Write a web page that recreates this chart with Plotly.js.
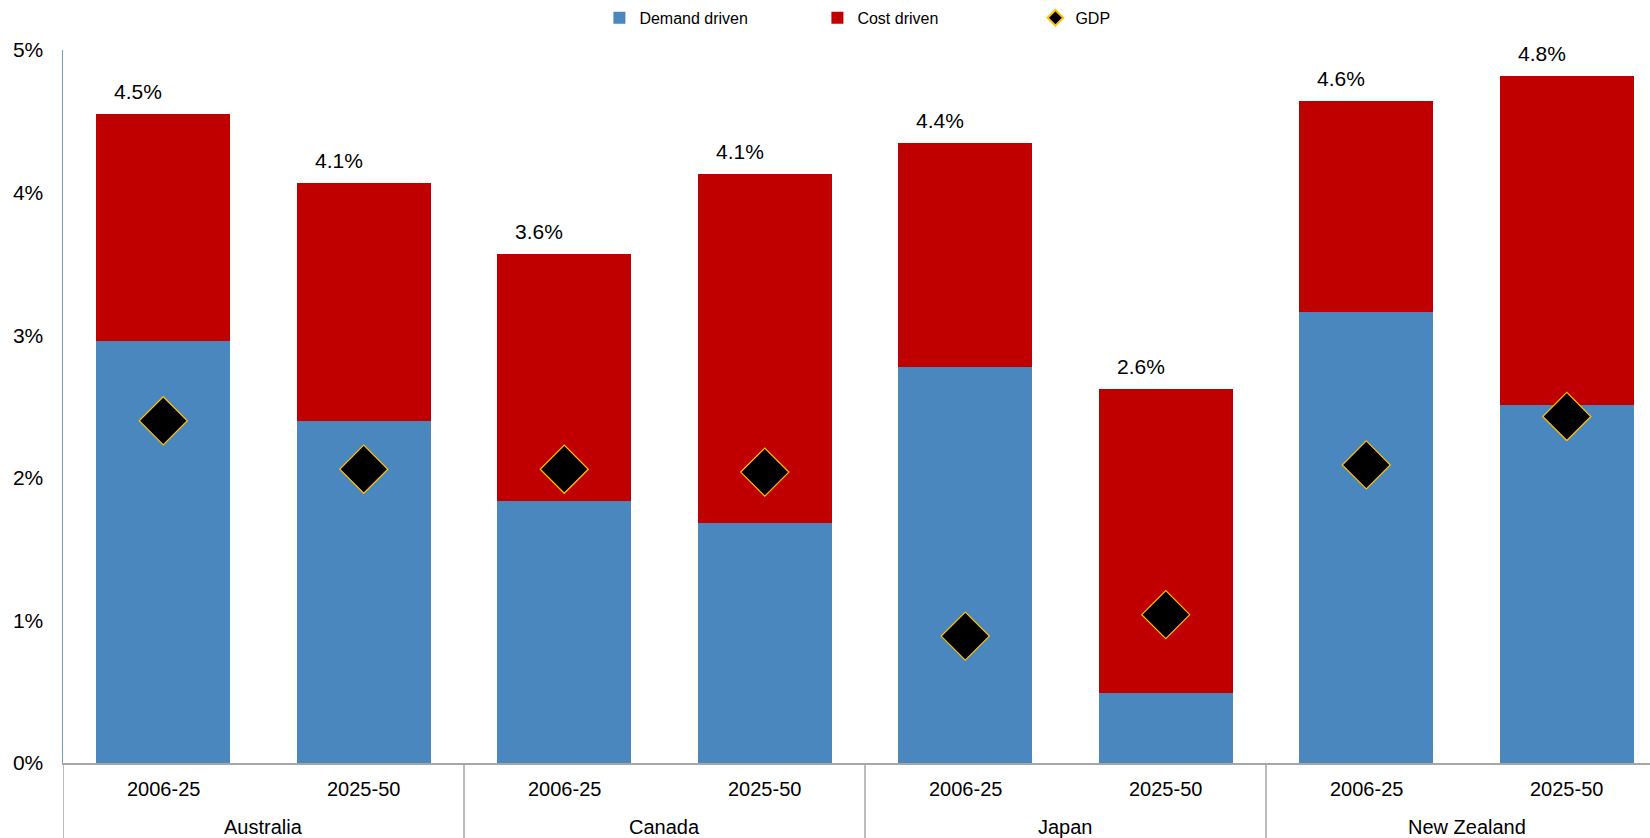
<!DOCTYPE html>
<html>
<head>
<meta charset="utf-8">
<script src="https://cdn.plot.ly/plotly-3.0.1.min.js"></script>
<style>html,body{margin:0;padding:0;background:#fff;}#chart{width:1650px;height:838px;}</style>
</head>
<body>
<div id="chart"></div>
<script>
const countries = ["Australia","Australia","Canada","Canada","Japan","Japan","New Zealand","New Zealand"];
const periods = ["2006-25","2025-50","2006-25","2025-50","2006-25","2025-50","2006-25","2025-50"];
const demandDriven = [2.96, 2.40, 1.84, 1.68, 2.78, 0.49, 3.16, 2.51];
const costDriven = [1.59, 1.67, 1.73, 2.45, 1.57, 2.13, 1.48, 2.31];
const gdp = [2.40, 2.06, 2.06, 2.04, 0.89, 1.04, 2.09, 2.43];
const totalLabels = ["4.5%","4.1%","3.6%","4.1%","4.4%","2.6%","4.6%","4.8%"];
const yTickVals = [0,1,2,3,4,5];
const yTickText = ["0%","1%","2%","3%","4%","5%"];

const FONT = "Arial, 'Liberation Sans', sans-serif";
const x = [countries, periods];

const traces = [
  {type:'bar', name:'Demand driven', x:x, y:demandDriven, marker:{color:'#4A87BF'}, hoverinfo:'skip'},
  {type:'bar', name:'Cost driven', x:x, y:costDriven, marker:{color:'#C00000'}, hoverinfo:'skip'},
  {type:'scatter', mode:'markers', name:'GDP', x:x, y:gdp,
   marker:{symbol:'diamond', size:37, color:'#000000', line:{color:'#FFC000', width:1.2}}, hoverinfo:'skip'}
];

const annotations = demandDriven.map((d,i)=>({
  x:i, y:d+costDriven[i], xref:'x', yref:'y', text:totalLabels[i], showarrow:false,
  yanchor:'bottom', yshift:9, xshift:-25, font:{family:FONT, size:21, color:'#000'}
}));

// inner (period) labels
periods.forEach((p,i)=>{
  annotations.push({x:i, y:0, xref:'x', yref:'paper', text:p, showarrow:false,
    yanchor:'middle', yshift:-26, font:{family:FONT, size:20, color:'#000'}});
});

// outer (country) labels and dividers
const shapes = [];
const divY = -75/713;
let start = 0;
for (let i=1;i<=countries.length;i++){
  if (i===countries.length || countries[i]!==countries[start]){
    annotations.push({x:(start+i-1)/2, y:0, xref:'x', yref:'paper', text:countries[start], showarrow:false,
      yanchor:'middle', yshift:-64, font:{family:FONT, size:20, color:'#000'}});
    shapes.push({type:'line', xref:'x', yref:'paper', x0:start-0.5, x1:start-0.5, y0:0, y1:divY,
      line:{color:'#A6A6A6', width:1.5}});
    start = i;
  }
}
shapes.push({type:'line', xref:'x', yref:'paper', x0:countries.length-0.5, x1:countries.length-0.5, y0:0, y1:divY,
  line:{color:'#A6A6A6', width:1.5}});

const layout = {
  width:1650, height:838,
  margin:{l:63, r:0, t:50, b:75},
  barmode:'stack', bargap:0.33,
  paper_bgcolor:'#fff', plot_bgcolor:'#fff',
  font:{family:FONT, color:'#000'},
  showlegend:true,
  legend:{orientation:'h', x:0.338, xanchor:'left', y:1.045, yanchor:'middle',
          font:{family:FONT, size:16, color:'#000'}, traceorder:'normal',
          entrywidth:173, entrywidthmode:'pixels', itemsizing:'constant'},
  xaxis:{type:'multicategory', range:[-0.5, 7.415], showline:true, linecolor:'#A6A6A6', linewidth:1.5,
         showgrid:false, zeroline:false, ticks:'', showticklabels:false, showdividers:false},
  yaxis:{range:[0,5], tickvals:yTickVals, ticktext:yTickText, showline:true, linecolor:'#6D9BD0', linewidth:1.5,
         showgrid:false, zeroline:false, ticks:'', ticklabelstandoff:14,
         tickfont:{family:FONT, size:21, color:'#000'}},
  annotations:annotations,
  shapes:shapes
};

Plotly.newPlot('chart', traces, layout, {displayModeBar:false, staticPlot:true});
</script>
</body>
</html>
